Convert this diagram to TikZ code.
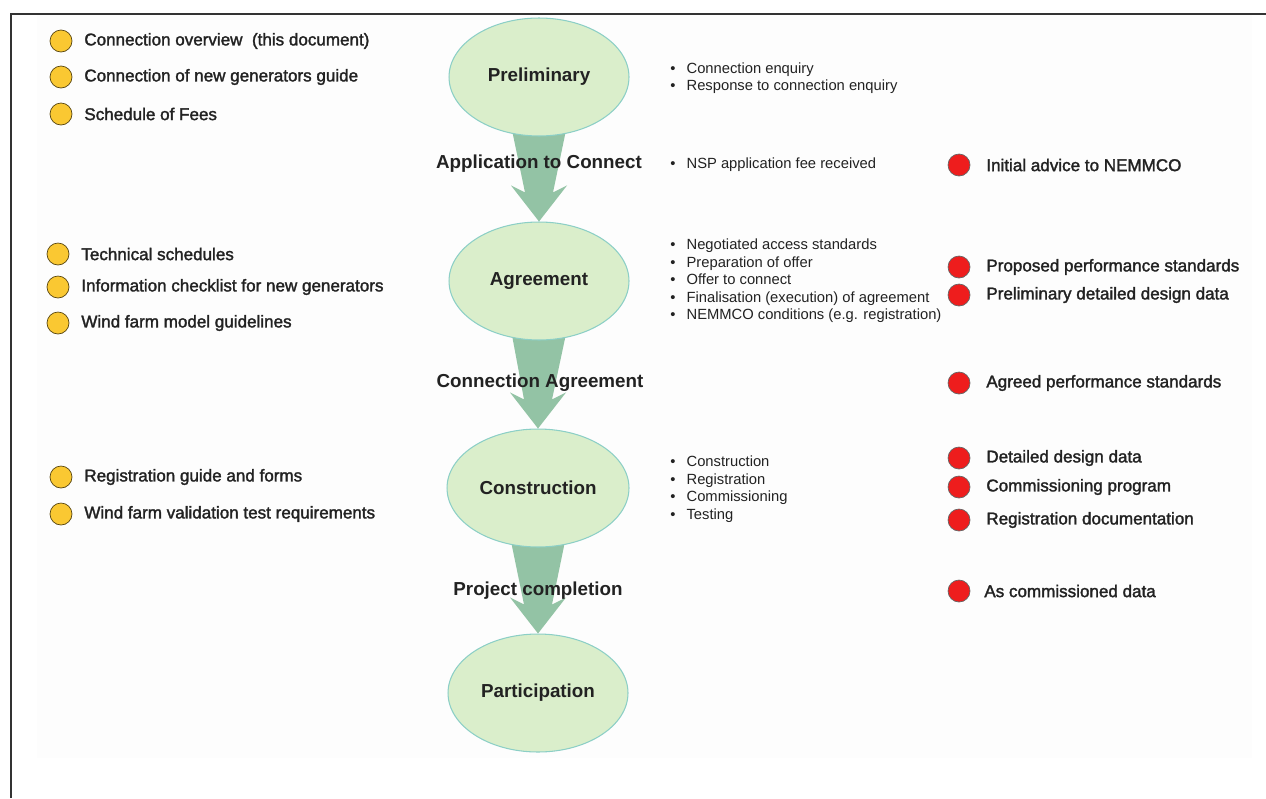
\documentclass[tikz,border=0pt]{standalone}
\usepackage{fontspec}
\setmainfont{Liberation Sans}
\newfontfamily\itemfont[FakeBold=1.8]{Liberation Sans}
\usetikzlibrary{shapes.geometric,calc,backgrounds}

\definecolor{stagefill}{HTML}{DAEECB}
\definecolor{stageline}{HTML}{8CCFC6}
\definecolor{flowgreen}{HTML}{93C3A5}
\definecolor{docyellow}{HTML}{FAC832}
\definecolor{reqred}{HTML}{EE1D1D}
\definecolor{inkgray}{HTML}{222222}

\tikzset{
    stage/.style={ellipse, draw=stageline, fill=stagefill, semithick,
        minimum width=3.6cm, minimum height=2.36cm, text=inkgray,
        font=\fontsize{10.7}{12}\selectfont\bfseries},
    gate/.style={text=inkgray, inner sep=0pt,
        font=\fontsize{10.7}{12}\selectfont\bfseries},
    flow/.style={fill=flowgreen},
    docdot/.style={circle, draw=black!65!docyellow, fill=docyellow,
        minimum size=0.44cm, inner sep=0pt},
    reqdot/.style={circle, draw=black!60, fill=reqred,
        minimum size=0.44cm, inner sep=0pt},
    itemtext/.style={anchor=west, inner sep=0pt, text=inkgray,
        font=\fontsize{9.7}{11}\itemfont},
    tasks/.style={anchor=west, inner sep=0pt, align=left, text=inkgray,
        font=\fontsize{8.4}{10}\selectfont},
}
\newcommand{\bul}{\textbullet\hspace{6.3pt}}

\begin{document}
\begin{tikzpicture}[x=0.02cm, y=-0.02cm]
\useasboundingbox (0,0) rectangle (1266,798);

% stages
\node [stage] (prelim) at (539,77) {Preliminary};
\node [stage] (agree) at (539,281) {Agreement};
\node [stage] (constr) at (538,488) {Construction};
\node [stage] (partic) at (538,693) {Participation};

% page and arrows
\begin{scope}[on background layer]
\fill [black!0.7] (37,14) rectangle (1252,758);
\draw [black!80, line width=1.5] (11,798) -- (11,14) -- (1266,14);
\fill [flow] ($(prelim.south)+(-29,-16)$) -- ($(prelim.south)+(29,-16)$)
    -- ($(agree.north)+(14,-29)$) -- ($(agree.north)+(28,-36)$) -- (agree.north)
    -- ($(agree.north)+(-28,-36)$) -- ($(agree.north)+(-14,-29)$) -- cycle;
\fill [flow] ($(agree.south)+(-29,-16)$) -- ($(agree.south)+(29,-16)$)
    -- ($(constr.north)+(14,-29)$) -- ($(constr.north)+(28,-36)$) -- (constr.north)
    -- ($(constr.north)+(-28,-36)$) -- ($(constr.north)+(-14,-29)$) -- cycle;
\fill [flow] ($(constr.south)+(-29,-16)$) -- ($(constr.south)+(29,-16)$)
    -- ($(partic.north)+(14,-29)$) -- ($(partic.north)+(28,-36)$) -- (partic.north)
    -- ($(partic.north)+(-28,-36)$) -- ($(partic.north)+(-14,-29)$) -- cycle;
\end{scope}

% gates
\node [gate] (apply) at (539,164) {Application to Connect};
\node [gate] (contract) at (540,383) {Connection Agreement};
\node [gate] (complete) at (538,591) {Project completion};

% documents
\node [docdot] (doc1) at (61,41) {};
\node [itemtext] (doc1t) at (84,41) {Connection overview\ \ (this document)};
\node [docdot] (doc2) at (61,77) {};
\node [itemtext] (doc2t) at (84,77) {Connection of new generators guide};
\node [docdot] (doc3) at (61,114) {};
\node [itemtext] (doc3t) at (84,114) {Schedule of Fees};
\node [docdot] (doc4) at (58,254) {};
\node [itemtext] (doc4t) at (81,254) {Technical schedules};
\node [docdot] (doc5) at (58,287) {};
\node [itemtext] (doc5t) at (81,287) {Information checklist for new generators};
\node [docdot] (doc6) at (58,323) {};
\node [itemtext] (doc6t) at (81,323) {Wind farm model guidelines};
\node [docdot] (doc7) at (61,477) {};
\node [itemtext] (doc7t) at (84,477) {Registration guide and forms};
\node [docdot] (doc8) at (61,514) {};
\node [itemtext] (doc8t) at (84,514) {Wind farm validation test requirements};

% tasks
\node [tasks] (task1) at (670,78) {\bul Connection enquiry\\ \bul Response to connection enquiry};
\node [tasks] (task2) at (670,165) {\bul NSP application fee received};
\node [tasks] (task3) at (670,281) {\bul Negotiated access standards\\
    \bul Preparation of offer\\ \bul Offer to connect\\
    \bul Finalisation (execution) of agreement\\
    \bul NEMMCO conditions (e.g. registration)};
\node [tasks] (task4) at (670,489) {\bul Construction\\ \bul Registration\\
    \bul Commissioning\\ \bul Testing};

% NEMMCO data
\node [reqdot] (req1) at (959,165) {};
\node [itemtext] (req1t) at (986,165) {Initial advice to NEMMCO};
\node [reqdot] (req2) at (959,267) {};
\node [itemtext] (req2t) at (986,267) {Proposed performance standards};
\node [reqdot] (req3) at (959,295) {};
\node [itemtext] (req3t) at (986,295) {Preliminary detailed design data};
\node [reqdot] (req4) at (959,383) {};
\node [itemtext] (req4t) at (986,383) {Agreed performance standards};
\node [reqdot] (req5) at (959,458) {};
\node [itemtext] (req5t) at (986,458) {Detailed design data};
\node [reqdot] (req6) at (959,487) {};
\node [itemtext] (req6t) at (986,487) {Commissioning program};
\node [reqdot] (req7) at (959,520) {};
\node [itemtext] (req7t) at (986,520) {Registration documentation};
\node [reqdot] (req8) at (959,591) {};
\node [itemtext] (req8t) at (984,591) {As commissioned data};
\end{tikzpicture}
\end{document}
